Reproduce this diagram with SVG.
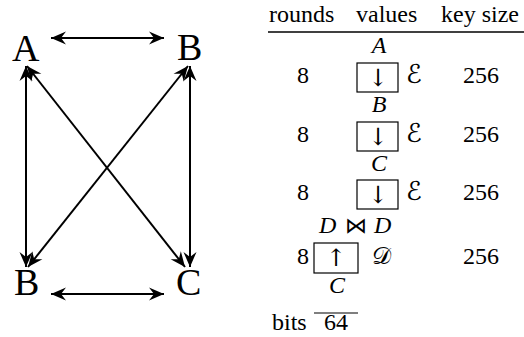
<svg xmlns="http://www.w3.org/2000/svg" width="524" height="337" viewBox="0 0 524 337">
<style>
text{fill:#000}
.e{stroke:#000;stroke-width:2;fill:none;marker-start:url(#h);marker-end:url(#h)}
.b{stroke:#000;stroke-width:1.2;fill:none}
</style>
<defs>
<marker id="h" viewBox="-16 -8 18 16" markerWidth="18" markerHeight="16" refX="0" refY="0" orient="auto-start-reverse" markerUnits="userSpaceOnUse">
<path d="M0,0 L-15,-6.5 L-10,0 L-15,6.5 Z" fill="#000"/>
</marker>
</defs>
<g font-family="Liberation Serif" font-size="38">
<g id="nodeA"><text x="12" y="61">A</text></g>
<g id="nodeB1"><text x="177" y="60">B</text></g>
<g id="nodeB2"><text x="14" y="295">B</text></g>
<g id="nodeC"><text x="176" y="295">C</text></g>
</g>
<g id="connectors">
<line class="e" x1="51" y1="38" x2="164" y2="38"/>
<line class="e" x1="51" y1="294" x2="164" y2="294"/>
<line class="e" x1="26" y1="66" x2="26" y2="267"/>
<line class="e" x1="190" y1="66" x2="190" y2="267"/>
<line class="e" x1="27" y1="66" x2="185" y2="267"/>
<line class="e" x1="188" y1="66" x2="28" y2="267"/>
</g>
<g id="table">
<text x="269" y="22" font-family="Liberation Serif" font-size="24">rounds</text>
<text x="356" y="22" font-family="Liberation Serif" font-size="24">values</text>
<text x="441" y="22" font-family="Liberation Serif" font-size="24">key size</text>
<text x="303" y="83" text-anchor="middle" font-family="Liberation Serif" font-size="24">8</text>
<text x="481" y="83" text-anchor="middle" font-family="Liberation Serif" font-size="24">256</text>
<text x="303" y="142" text-anchor="middle" font-family="Liberation Serif" font-size="24">8</text>
<text x="481" y="142" text-anchor="middle" font-family="Liberation Serif" font-size="24">256</text>
<text x="303" y="200" text-anchor="middle" font-family="Liberation Serif" font-size="24">8</text>
<text x="481" y="200" text-anchor="middle" font-family="Liberation Serif" font-size="24">256</text>
<text x="303" y="264" text-anchor="middle" font-family="Liberation Serif" font-size="24">8</text>
<text x="481" y="264" text-anchor="middle" font-family="Liberation Serif" font-size="24">256</text>
<text x="272" y="330" font-family="Liberation Serif" font-size="24">bits</text>
<text x="336" y="330" text-anchor="middle" font-family="Liberation Serif" font-size="24">64</text>
<text x="379" y="53" text-anchor="middle" font-family="Liberation Serif" font-size="24" font-style="italic">A</text>
<text x="379" y="112" text-anchor="middle" font-family="Liberation Serif" font-size="24" font-style="italic">B</text>
<text x="379" y="171" text-anchor="middle" font-family="Liberation Serif" font-size="24" font-style="italic">C</text>
<text x="319" y="233" font-family="Liberation Serif" font-size="24" font-style="italic">D</text>
<text x="374" y="233" font-family="Liberation Serif" font-size="24" font-style="italic">D</text>
<text x="337" y="293" text-anchor="middle" font-family="Liberation Serif" font-size="24" font-style="italic">C</text>
<line x1="268" y1="32" x2="524" y2="32" stroke="#000" stroke-width="1.3"/>
<rect class="b" x="357" y="63" width="41" height="29"/>
<rect class="b" x="357" y="122" width="41" height="29"/>
<rect class="b" x="357" y="180" width="41" height="29"/>
<rect class="b" x="314" y="243" width="44" height="30"/>
<line x1="314" y1="313" x2="358" y2="313" stroke="#000" stroke-width="1.2"/>
<text x="378" y="86" text-anchor="middle" font-family="DejaVu Serif" font-size="24">↓</text>
<text x="378" y="145" text-anchor="middle" font-family="DejaVu Serif" font-size="24">↓</text>
<text x="378" y="203" text-anchor="middle" font-family="DejaVu Serif" font-size="24">↓</text>
<text x="336" y="266" text-anchor="middle" font-family="DejaVu Serif" font-size="24">↑</text>
<text x="406" y="83" font-family="DejaVu Sans" font-size="26" font-style="italic">ℰ</text>
<text x="406" y="142" font-family="DejaVu Sans" font-size="26" font-style="italic">ℰ</text>
<text x="406" y="200" font-family="DejaVu Sans" font-size="26" font-style="italic">ℰ</text>
<text x="372" y="264" font-family="DejaVu Sans" font-size="24">𝒟</text>
<text x="356" y="233" text-anchor="middle" font-family="DejaVu Sans" font-size="22">⋈</text>
</g>
</svg>
